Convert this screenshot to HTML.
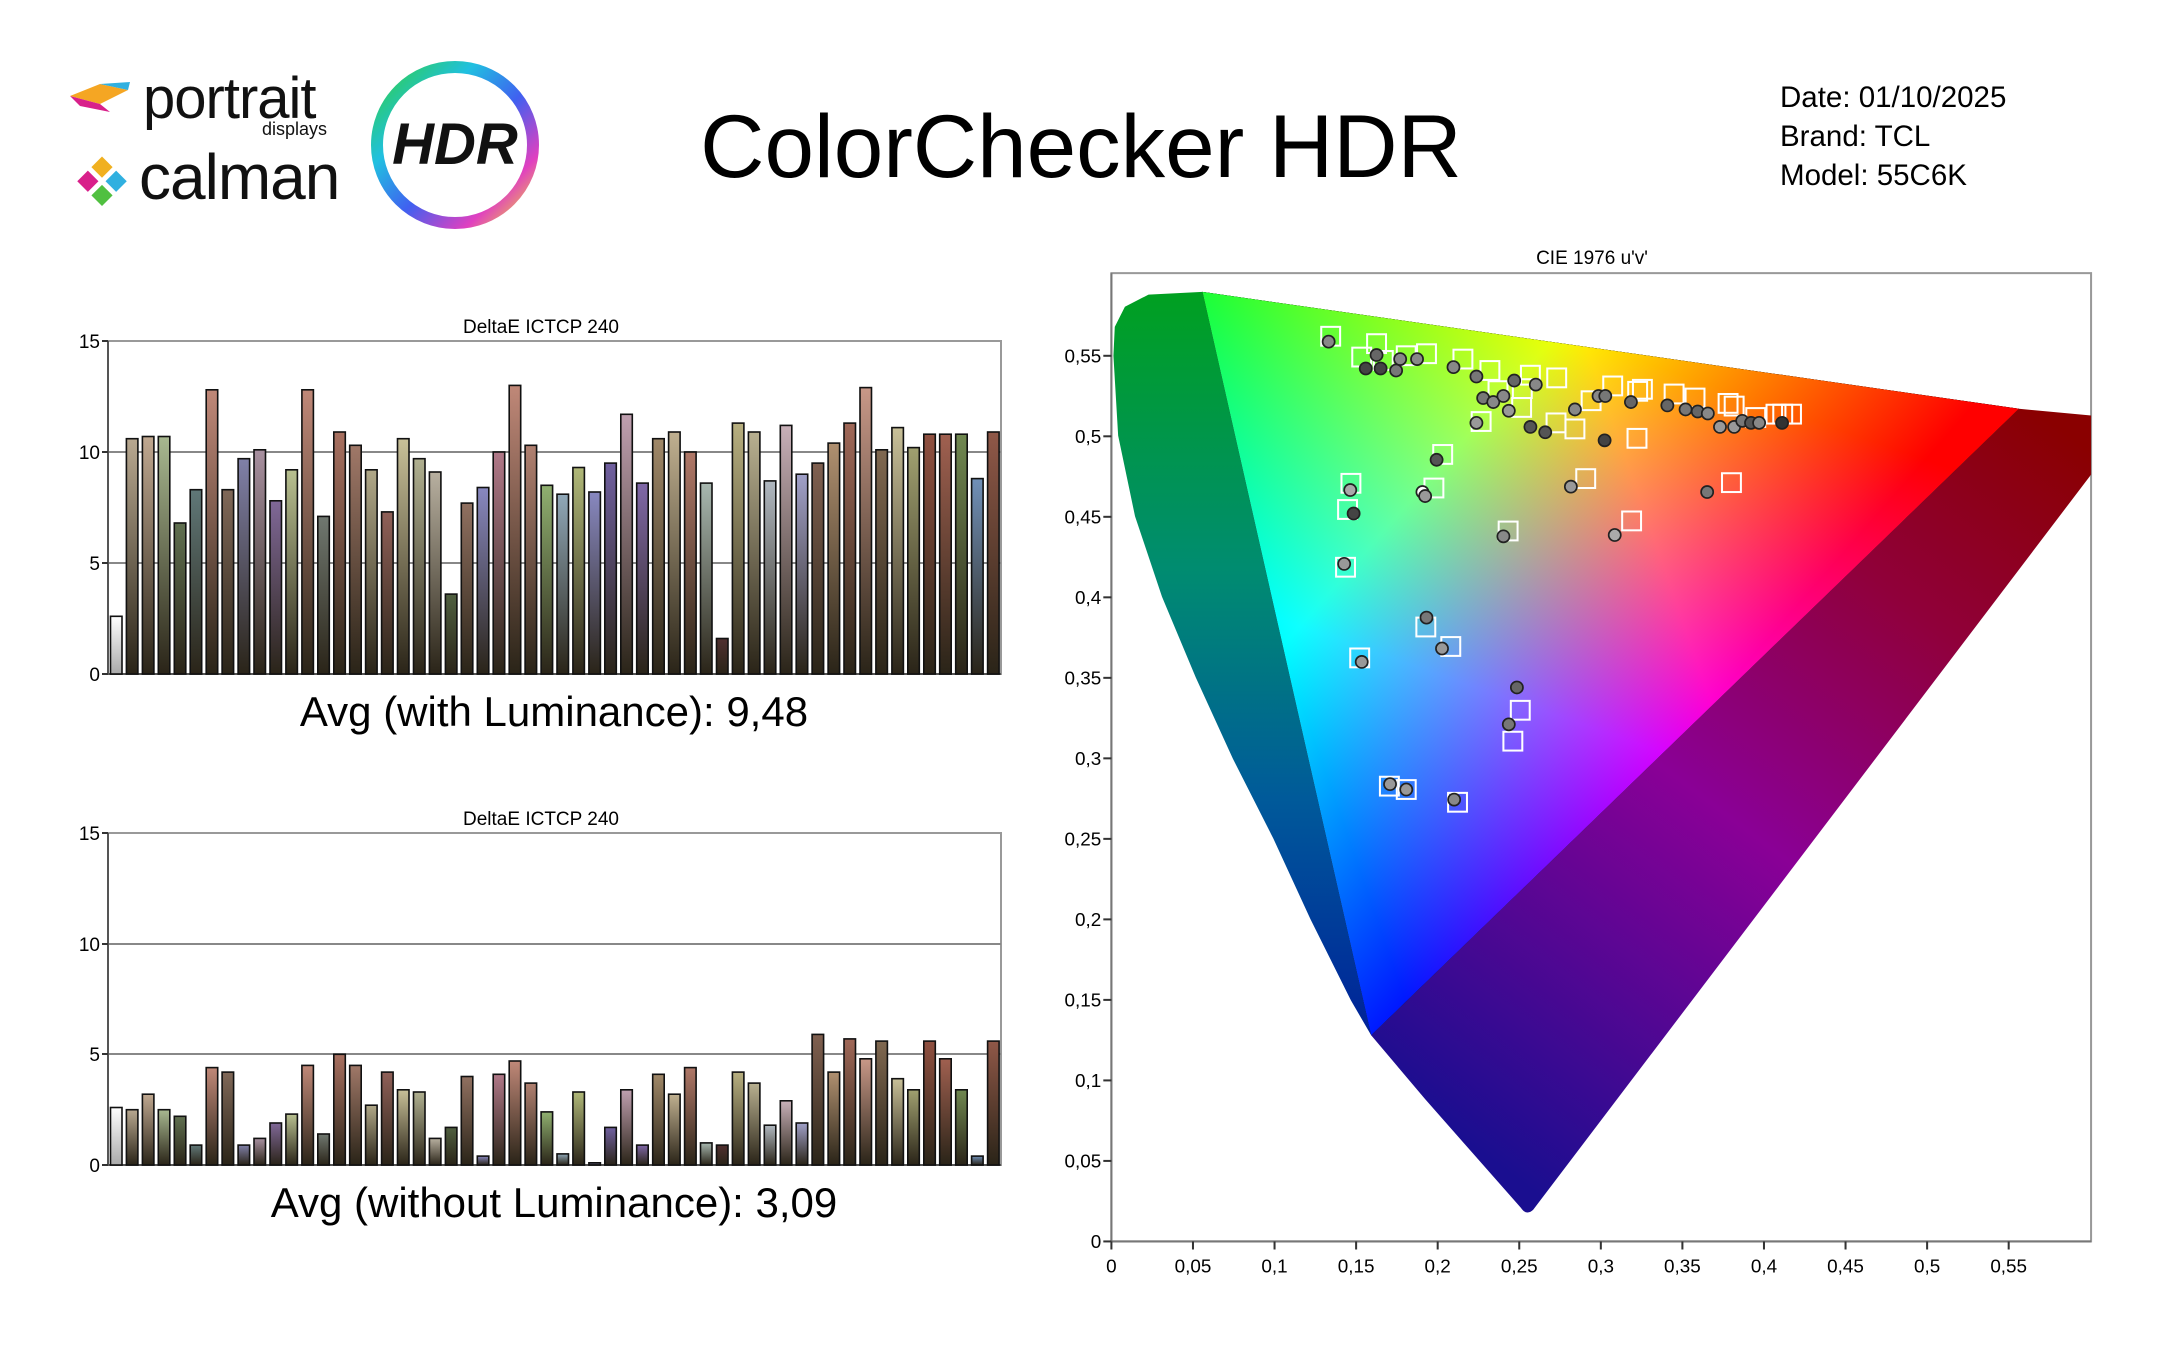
<!DOCTYPE html>
<html><head><meta charset="utf-8">
<style>
html,body{margin:0;padding:0;background:#fff;}
body{width:2160px;height:1350px;position:relative;overflow:hidden;font-family:"Liberation Sans",sans-serif;}
</style></head><body>
<svg width="2160" height="1350" style="position:absolute;left:0;top:0" xmlns="http://www.w3.org/2000/svg" font-family="Liberation Sans, sans-serif">
<defs>
<linearGradient id="ring" x1="0" y1="0" x2="1" y2="1">
<stop offset="0" stop-color="#30d040"/><stop offset="0.3" stop-color="#20c0e0"/><stop offset="0.55" stop-color="#4060f0"/><stop offset="0.8" stop-color="#e040c0"/><stop offset="1" stop-color="#f0e030"/></linearGradient>
<linearGradient id="dl" gradientUnits="userSpaceOnUse" x1="0" y1="48" x2="0" y2="1420">
<stop offset="0" stop-color="#00a020"/><stop offset="0.3" stop-color="#008c70"/><stop offset="0.55" stop-color="#005a9a"/><stop offset="0.85" stop-color="#001898"/><stop offset="1" stop-color="#10108a"/></linearGradient>
<linearGradient id="dr" gradientUnits="userSpaceOnUse" x1="650" y1="1350" x2="1480" y2="250">
<stop offset="0" stop-color="#1a0e90"/><stop offset="0.45" stop-color="#8a0096"/><stop offset="0.75" stop-color="#90003a"/><stop offset="1" stop-color="#8a0000"/></linearGradient>
<linearGradient id="gR" gradientUnits="userSpaceOnUse" x1="1420" y1="222" x2="335" y2="600">
<stop offset="0" stop-color="#ff0000"/><stop offset="0.5" stop-color="#ff0000"/><stop offset="1" stop-color="#000"/></linearGradient>
<linearGradient id="gG" gradientUnits="userSpaceOnUse" x1="210" y1="48" x2="940" y2="688">
<stop offset="0" stop-color="#00ff00"/><stop offset="0.45" stop-color="#00ff00"/><stop offset="1" stop-color="#000"/></linearGradient>
<linearGradient id="gB" gradientUnits="userSpaceOnUse" x1="460" y1="1155" x2="815" y2="135">
<stop offset="0" stop-color="#0000ff"/><stop offset="0.5" stop-color="#0000ff"/><stop offset="1" stop-color="#000"/></linearGradient>
</defs>

<!-- logos -->
<g>
<polygon points="70,96 100,84 128,90 100,104" fill="#f5a623"/>
<polygon points="70,96 100,104 110,112 80,106" fill="#d8208a"/>
<polygon points="100,84 130,82 128,90" fill="#30b0e0"/>
<text x="143" y="118" font-size="58" fill="#111" style="letter-spacing:-1px">portrait</text>
<text x="262" y="135" font-size="18" fill="#111">displays</text>
<g transform="translate(102,182) rotate(45)">
<rect x="-18" y="-18" width="15" height="15" fill="#f0b020"/><rect x="2" y="-18" width="15" height="15" fill="#30b0e0"/>
<rect x="-18" y="2" width="15" height="15" fill="#d8208a"/><rect x="2" y="2" width="15" height="15" fill="#50c040"/></g>
<text x="139" y="199" font-size="64" fill="#111" style="letter-spacing:-1px">calman</text>
<circle cx="455" cy="145" r="78" fill="none" stroke="url(#ring)" stroke-width="12"/>
<text x="455" y="164" font-size="58" font-weight="bold" font-style="italic" text-anchor="middle" fill="#111">HDR</text>
</g>
<text x="1081" y="177" font-size="89" text-anchor="middle" fill="#000">ColorChecker HDR</text>
<text x="1780" y="107" font-size="29.5" fill="#000">Date: 01/10/2025</text>
<text x="1780" y="146" font-size="29.5" fill="#000">Brand: TCL</text>
<text x="1780" y="185" font-size="29.5" fill="#000">Model: 55C6K</text>

<!-- bar chart 1 -->
<g>
<text x="541" y="333" font-size="19" text-anchor="middle">DeltaE ICTCP 240</text>
<rect x="108" y="341" width="893" height="333" fill="none" stroke="#999" stroke-width="2"/>
<line x1="108" y1="452" x2="1001" y2="452" stroke="#888" stroke-width="2"/>
<line x1="108" y1="563" x2="1001" y2="563" stroke="#888" stroke-width="2"/>
<line x1="108" y1="341" x2="108" y2="674" stroke="#555" stroke-width="2"/>
<line x1="108" y1="674" x2="1001" y2="674" stroke="#555" stroke-width="2"/>
<g font-size="19" text-anchor="end"><text x="100" y="348">15</text><text x="100" y="459">10</text><text x="100" y="570">5</text><text x="100" y="681">0</text></g>
<g stroke="#333" stroke-width="2"><line x1="102" y1="341" x2="108" y2="341"/><line x1="102" y1="452" x2="108" y2="452"/><line x1="102" y1="563" x2="108" y2="563"/><line x1="102" y1="674" x2="108" y2="674"/></g>
<g id="b1"></g>
<text x="554" y="726" font-size="42" text-anchor="middle">Avg (with Luminance): 9,48</text>
</g>
<!-- bar chart 2 -->
<g>
<text x="541" y="825" font-size="19" text-anchor="middle">DeltaE ICTCP 240</text>
<rect x="108" y="833" width="893" height="332" fill="none" stroke="#999" stroke-width="2"/>
<line x1="108" y1="944" x2="1001" y2="944" stroke="#888" stroke-width="2"/>
<line x1="108" y1="1054" x2="1001" y2="1054" stroke="#888" stroke-width="2"/>
<line x1="108" y1="833" x2="108" y2="1165" stroke="#555" stroke-width="2"/>
<line x1="108" y1="1165" x2="1001" y2="1165" stroke="#555" stroke-width="2"/>
<g font-size="19" text-anchor="end"><text x="100" y="840">15</text><text x="100" y="951">10</text><text x="100" y="1061">5</text><text x="100" y="1172">0</text></g>
<g stroke="#333" stroke-width="2"><line x1="102" y1="833" x2="108" y2="833"/><line x1="102" y1="944" x2="108" y2="944"/><line x1="102" y1="1054" x2="108" y2="1054"/><line x1="102" y1="1165" x2="108" y2="1165"/></g>
<g id="b2"></g>
<text x="554" y="1217" font-size="42" text-anchor="middle">Avg (without Luminance): 3,09</text>
</g>

<!-- CIE -->
<text x="1592" y="264" font-size="19" text-anchor="middle">CIE 1976 u'v'</text>
<g transform="translate(1060.8,259.7) scale(0.6747,0.6715)">
<rect x="75" y="20" width="1452" height="1442" fill="#fff" stroke="#999" stroke-width="3"/>
<path d="M210,48 L460,1155 L430,1103 L370,982 L315,862 L255,743 L200,622 L150,502 L110,382 L85,262 L78,143 L80,100 L95,70 L130,52 Z" fill="url(#dl)"/>
<path d="M460,1155 L1420,222 L1527,232 L1527,320 L700,1415 Q690,1424 682,1412 L610,1330 L540,1250 Z" fill="url(#dr)"/>
<g style="isolation:isolate">
<polygon points="210,48 460,1155 1420,222" fill="#000"/>
<polygon points="210,48 460,1155 1420,222" fill="url(#gR)" style="mix-blend-mode:screen"/>
<polygon points="210,48 460,1155 1420,222" fill="url(#gG)" style="mix-blend-mode:screen"/>
<polygon points="210,48 460,1155 1420,222" fill="url(#gB)" style="mix-blend-mode:screen"/>
</g>
<line x1="75" y1="1462" x2="1527" y2="1462" stroke="#777" stroke-width="3"/>
<line x1="75" y1="20" x2="75" y2="1462" stroke="#777" stroke-width="3"/>
<g id="sq" fill="none" stroke="#fff" stroke-width="3"></g>
<g id="ci" stroke="#222" stroke-width="2.5"></g>
<g id="ax" font-size="28"></g>
</g>
</svg>
<script>
var NS="http://www.w3.org/2000/svg";
function el(t,a,p){var e=document.createElementNS(NS,t);for(var k in a)e.setAttribute(k,a[k]);p.appendChild(e);return e;}
var cols=["#ffffff","#b8a890","#c0a890","#a8b890","#607050","#607878","#c08878","#806858","#8080a8","#a890a0","#806898","#b8c090","#c08878","#707870","#a87060","#a07868","#b0a888","#906058","#c8c098","#b0b090","#b8b0a0","#506040","#907060","#8888c0","#b07888","#c08878","#b08070","#90b070","#90a8b8","#b0b878","#8888c0","#7060a0","#c0a0b0","#8068a8","#a08868","#c0b090","#b07868","#a8b8b0","#503030","#b8b080","#b8b090","#b0b8c0","#c8b0b8","#a0a0c8","#806050","#b09070","#a06858","#c89888","#806850","#c8c098","#a0a070","#905040","#a06050","#708850","#7090b8","#905848"];
var v1=[2.6,10.6,10.7,10.7,6.8,8.3,12.8,8.3,9.7,10.1,7.8,9.2,12.8,7.1,10.9,10.3,9.2,7.3,10.6,9.7,9.1,3.6,7.7,8.4,10.0,13.0,10.3,8.5,8.1,9.3,8.2,9.5,11.7,8.6,10.6,10.9,10.0,8.6,1.6,11.3,10.9,8.7,11.2,9.0,9.5,10.4,11.3,12.9,10.1,11.1,10.2,10.8,10.8,10.8,8.8,10.9];
var v2=[2.6,2.5,3.2,2.5,2.2,0.9,4.4,4.2,0.9,1.2,1.9,2.3,4.5,1.4,5.0,4.5,2.7,4.2,3.4,3.3,1.2,1.7,4.0,0.4,4.1,4.7,3.7,2.4,0.5,3.3,0.1,1.7,3.4,0.9,4.1,3.2,4.4,1.0,0.9,4.2,3.7,1.8,2.9,1.9,5.9,4.2,5.7,4.8,5.6,3.9,3.4,5.6,4.8,3.4,0.4,5.6];
var defs=document.querySelector("defs");
cols.forEach(function(c,i){var g=el("linearGradient",{id:"bg"+i,x1:0,y1:0,x2:0,y2:1},defs);
el("stop",{offset:0,"stop-color":c},g);el("stop",{offset:1,"stop-color":i==0?"#aaa":"#2a2418"},g);});
function bars(id,vals,y0,u){var g=document.getElementById(id);var sp=893/56;
vals.forEach(function(v,i){var h=v*u;el("rect",{x:(108+2.5+i*sp).toFixed(1),y:(y0-h).toFixed(1),width:11.5,height:h.toFixed(1),fill:"url(#bg"+i+")",stroke:"#111","stroke-width":1.6},g);});}
bars("b1",v1,674,22.2);bars("b2",v2,1165,22.13);
var sq=[[400,114],[446,145],[468,125],[478,150],[512,143],[542,140],[596,148],[636,165],[648,195],[683,220],[696,172],[684,192],[735,176],[734,243],[762,252],[786,210],[818,188],[862,193],[855,196],[909,200],[940,206],[989,214],[998,218],[1030,235],[1060,230],[1083,230],[566,290],[553,340],[430,333],[425,372],[422,458],[443,593],[541,547],[578,576],[663,404],[846,389],[778,326],[994,332],[623,241],[854,266],[681,671],[670,717],[487,784],[512,789],[588,808],[1070,230]];
var G=document.getElementById("sq");sq.forEach(function(p){el("rect",{x:p[0]-14,y:p[1]-14,width:28,height:28},G);});
var ci=[[397,122,"#888"],[468,142,"#666"],[452,162,"#444"],[474,162,"#444"],[497,165,"#777"],[503,148,"#888"],[528,148,"#888"],[582,160,"#888"],[616,174,"#777"],[626,206,"#777"],[641,212,"#888"],[656,203,"#888"],[672,180,"#666"],[704,186,"#888"],[664,225,"#999"],[616,243,"#999"],[696,249,"#555"],[718,257,"#555"],[762,223,"#888"],[797,203,"#888"],[807,203,"#777"],[845,212,"#666"],[806,269,"#444"],[899,217,"#666"],[926,223,"#777"],[944,226,"#666"],[959,229,"#888"],[977,249,"#999"],[998,249,"#999"],[1010,240,"#777"],[1023,243,"#555"],[1035,243,"#888"],[1069,243,"#333"],[557,298,"#555"],[536,346,"#fff"],[540,352,"#999"],[429,343,"#aaa"],[434,378,"#444"],[756,338,"#999"],[958,346,"#777"],[656,412,"#888"],[821,410,"#aaa"],[420,453,"#999"],[542,533,"#777"],[565,579,"#999"],[446,599,"#999"],[676,637,"#666"],[664,692,"#777"],[488,781,"#999"],[512,789,"#999"],[583,804,"#888"]];
var C=document.getElementById("ci");ci.forEach(function(p){el("circle",{cx:p[0],cy:p[1],r:9,fill:p[2]},C);});
var A=document.getElementById("ax");
var xl=["0","0,05","0,1","0,15","0,2","0,25","0,3","0,35","0,4","0,45","0,5","0,55"];
xl.forEach(function(s,i){var x=75+i*0.05*2418;el("line",{x1:x,y1:1462,x2:x,y2:1474,stroke:"#333","stroke-width":3},A);var t=el("text",{x:x,y:1508,"text-anchor":"middle"},A);t.textContent=s;
var y=1462-i*0.05*2398;el("line",{x1:63,y1:y,x2:75,y2:y,stroke:"#333","stroke-width":3},A);var t2=el("text",{x:60,y:y+10,"text-anchor":"end"},A);t2.textContent=s;});
</script>
</body></html>
